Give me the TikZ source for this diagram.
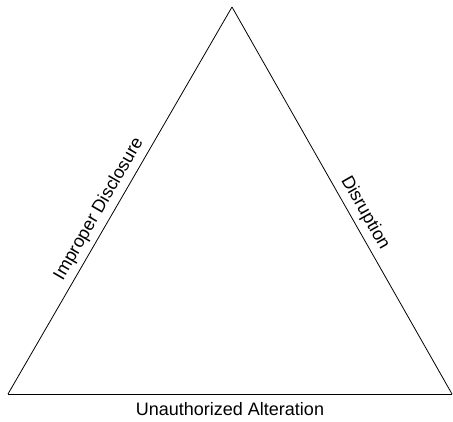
\documentclass[tikz,border=0pt]{standalone}
\usepackage{fontspec}
\setmainfont{Liberation Sans}
\usetikzlibrary{positioning, calc}
\begin{document}
\begin{tikzpicture}[
        x=1pt, y=-1pt,
        side/.style={draw=black, line width=0.8pt},
        caption/.style={font=\fontsize{18}{21}\selectfont, inner sep=2pt},
        sidecaption/.style={caption, sloped, above, inner sep=5pt}
    ]

    \useasboundingbox (0,0) rectangle (453,421);

    % Corners
    \coordinate (top) at (232,7);
    \coordinate (bottomleft) at (8,394);
    \coordinate (bottomright) at (452,394);

    % Sides
    \draw[side] (bottomleft) -- node[sidecaption, pos=0.46] (disclosure) {Improper Disclosure} (top);
    \draw[side] (top) -- node[sidecaption, pos=0.55] (disruption) {Disruption} (bottomright);
    \draw[side] (bottomright) -- (bottomleft);

    \node[caption, anchor=base] (alteration) at ($(bottomleft)!0.5!(bottomright) + (0,21)$) {Unauthorized Alteration};
\end{tikzpicture}
\end{document}
